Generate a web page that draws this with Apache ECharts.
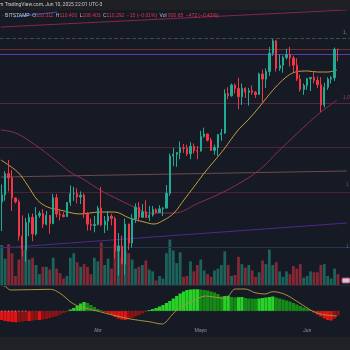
<!DOCTYPE html>
<html>
<head>
<meta charset="utf-8">
<script src="https://cdn.jsdelivr.net/npm/echarts@6/dist/echarts.min.js"></script>
<style>
html,body{margin:0;padding:0;background:#161a25;}
#c{width:350px;height:350px;}
</style>
</head>
<body>
<div id="c"></div>
<script>
// BTCUSD daily, Bitstamp — Mar 4 to Jun 10, 2025
const dates = [
'03-04','03-05','03-06','03-07','03-08','03-09','03-10','03-11','03-12','03-13','03-14','03-15','03-16','03-17',
'03-18','03-19','03-20','03-21','03-22','03-23','03-24','03-25','03-26','03-27','03-28','03-29','03-30','03-31',
'04-01','04-02','04-03','04-04','04-05','04-06','04-07','04-08','04-09','04-10','04-11','04-12','04-13','04-14','04-15',
'04-16','04-17','04-18','04-19','04-20','04-21','04-22','04-23','04-24','04-25','04-26','04-27','04-28','04-29','04-30',
'05-01','05-02','05-03','05-04','05-05','05-06','05-07','05-08','05-09','05-10','05-11','05-12','05-13','05-14','05-15',
'05-16','05-17','05-18','05-19','05-20','05-21','05-22','05-23','05-24','05-25','05-26','05-27','05-28','05-29','05-30','05-31',
'06-01','06-02','06-03','06-04','06-05','06-06','06-07','06-08','06-09','06-10'];
// empty space to the right of the last bar
const padDays = ['06-11','06-12','06-13'];

const opens = [86100,87250,90600,89950,86750,86150,80700,78550,82900,83700,81050,84000,84300,82600,
84000,82700,86800,84200,84050,83800,86050,87450,87500,86900,87200,84350,82600,82400,
82550,85150,82500,83100,83850,83500,78350,79150,76300,82600,79600,83400,85300,83700,84550,
83650,84050,84950,84450,85050,85150,87500,93400,93700,93950,94700,94650,93750,94950,94250,
94200,96500,96900,95900,94300,94750,96800,97050,103300,102950,104650,104100,102800,104150,103500,
103750,103500,103150,106400,105600,106800,109700,111650,107300,107800,109000,109450,108950,107800,105600,103950,
104600,105650,105850,105400,104700,101500,104300,105600,105800,110311];
const highs = [88900,91000,92800,91200,86850,86500,84000,83600,84300,84300,85300,84700,85000,84700,
84000,87400,87400,84800,84500,86100,88750,88500,88300,87800,87500,84550,83500,83900,
85500,88500,83900,84700,84200,83800,81200,80800,83500,82700,84200,85900,86100,85800,86400,
85500,85500,85100,85600,85300,88800,93800,94700,94000,95700,95300,95200,95600,95400,95000,
97400,97900,96900,96300,95200,96900,97700,104000,104300,104900,104900,105800,104900,104300,104200,
104600,103700,106600,107100,107300,110700,111950,111800,109500,109300,110400,110700,109300,108900,106300,104900,
105800,105900,106800,106000,105900,105000,105900,106100,110600,110400];
const lows = [81500,86300,87800,84700,85900,80000,77500,76600,80700,79900,80800,83600,82000,82400,
81100,82600,83700,83200,83700,83800,85500,86300,85900,85800,83600,81600,81600,81300,
82400,82300,81200,81600,82400,77200,74500,76300,74600,78500,78900,82800,83000,83600,83700,
83100,83800,84300,84400,83900,85100,87100,91800,91700,92900,93900,93400,92900,93800,92900,
94100,96300,95700,94200,93600,93400,95800,96900,102400,102800,103300,100800,101500,102600,101400,
103100,102600,103100,102000,104200,106100,109300,106800,106900,106600,108700,107600,106700,105300,103600,103100,
103900,103700,104900,104200,100400,101100,103900,104900,105300,108403];
const closes = [87250,90600,89950,86750,86150,80700,78550,82900,83700,81050,84000,84300,82600,84000,
82700,86800,84200,84050,83800,86050,87450,87500,86900,87200,84350,82600,82400,82550,
85150,82500,83100,83850,83500,78350,79150,76300,82600,79600,83400,85300,83700,84550,83650,
84050,84950,84450,85050,85150,87500,93400,93700,93950,94700,94650,93750,94950,94250,94200,
96500,96900,95900,94300,94750,96800,97050,103300,102950,104650,104100,102800,104150,103500,103750,
103500,103150,106400,105600,106800,109700,111650,107300,107800,109000,109450,108950,107800,105600,103950,104600,
105650,105850,105400,104700,101500,104300,105600,105800,110307,110292];
const volumes = [4400,2900,4500,3500,1000,2800,3800,4000,2800,3000,2200,1200,2000,2000,
1700,3000,1800,1300,700,1000,3000,3500,2500,2000,2300,2000,1200,3000,
2600,4700,2200,2900,1800,4500,3800,3000,3800,3500,2800,1800,2000,2200,2700,
1700,1500,500,1000,700,3500,5000,3800,2400,3600,900,1000,2600,1500,2200,
2800,1600,1200,900,1600,1800,2200,3700,2200,1000,1100,3100,2300,1900,2200,
1600,900,1400,2700,2300,3900,2200,2500,1500,900,1500,1200,2100,1800,2300,800,
1000,1500,1400,1400,2200,2300,1000,700,1800,1200];

// 20- and 50-day moving averages, [day index, price]
const sma20 = [[-0.25,92770],[4.65,90870],[7.5,88810],[10.4,86440],[13.3,85330],[17,84850],[22.8,84220],
[28.6,84530],[32.9,84530],[37.2,83580],[41.5,82950],[44.4,82630],[47.3,83270],[50.2,84370],[53.1,86440],
[56,88500],[58.8,90560],[61.7,92460],[64.6,94360],[68.9,97530],[71.8,99110],[75.3,101330],[77.6,102920],
[80.4,104660],[83.3,106090],[85.6,106720],[89.1,106880],[92,106720],[94.9,106720],[97.7,107040]];
const sma50 = [[-0.25,97530],[4.1,97050],[9.8,95150],[15.6,92770],[19.9,90870],[24.2,89600],[28.6,88020],
[34.3,86440],[39.2,85170],[43,84370],[50.2,84370],[57.4,85960],[64.6,87700],[71.8,89920],[76.1,91670],
[80.4,94040],[86.2,97050],[92,99910],[97.7,102280]];

// drawn horizontal levels
const levels = [112110, 110292, 109570, 101810, 94830, 87700, 78990];
// drawn trend lines, [day index, price]
const upperTrend = [[-0.25,113850],[100.6,116550]];
const shortTrend = [[3.5,115440],[16.2,116230]];
const midTrend = [[-0.25,90080],[100.6,91030]];
const lowerTrend = [[-0.25,78830],[100.6,82790]];

// momentum histogram and its companion line
const momentum = [-9,-10,-10.5,-11,-11.2,-11,-10.5,-10,-10,-9.5,-9,-9,-8.5,-8,-7,-6,-5,-3.5,-2,-1,
1.5,3,5,7.5,9,8,6,4,2,0.8,-1,-2.5,-4,-6,-7.5,-8.5,-9,-8.5,-7,-5.5,-4,-2.5,-1,
1,2,3,4.5,6,8,10,12.5,15,17.5,19.5,21,21.5,21.7,21.8,21.5,21,20.5,19.5,18.5,17,14.5,15,15.2,14,13.5,13.8,14,
13,12.5,12.3,12.2,12.5,13,13.5,14,14.5,13.5,12.5,11.5,10.5,9.5,8,6.5,5,3.5,2.5,1,
-1.5,-3.5,-5.5,-7.5,-9,-9.5,-8,-4.5];
const momentumLine = [[-1,25.5],[0.6,25.3],[2.6,21],[14.2,21.7],[17,17.7],[20.5,8],[22.8,4.3],[28.6,-0.7],
[32.3,-4],[38,-8.3],[43,-10.7],[46.7,-13],[49.6,-4],[51.6,2.7],[55.4,9.3],[59.4,15],[62.3,13.7],[65.2,12.7],
[68.1,22],[71,22],[73.8,18.3],[76.7,17],[79,19.3],[82.5,16.7],[86.2,9.3],[90,1],[92.8,-3],[97.7,-5]];
const squeezeDays = 8;

// month ticks
const tickDates = ['04-01','05-01','06-01'];
const tickLabels = ['Abr','Mayo','Jun'];

const UP = '#22ab94', DOWN = '#f23645';
const cats = dates.concat(padDays);
const N = cats.length;
const STEP = 3.47;
const L = 0.9 - STEP / 2, W = N * STEP;

const candleData = dates.map((d, i) => [opens[i], closes[i], lows[i], highs[i]]);
const volData = volumes.map((v, i) => ({
  value: v,
  itemStyle: { color: closes[i] >= opens[i] ? 'rgba(34,171,148,0.5)' : 'rgba(242,54,69,0.5)' }
}));
const histData = momentum.map((v, i) => {
  const prev = i > 0 ? momentum[i - 1] : v;
  let c;
  if (v >= 0) c = v >= prev ? '#27d327' : '#168a16';
  else c = v <= prev ? '#e31414' : '#8e1212';
  return { value: v, itemStyle: { color: c } };
});
const dotData = dates.map((d, i) => ({
  value: 0,
  itemStyle: { color: i < squeezeDays ? '#9a9ca4' : '#3a3d48' }
}));

const levelStyles = [
  { color: '#3f4c47', type: 'dashed' },
  { color: '#6e2a40', type: 'solid' },
  { color: '#5b3ab6', type: 'solid' },
  { color: '#5a2541', type: 'solid' },
  { color: '#4f2439', type: 'solid' },
  { color: '#4a2233', type: 'solid' },
  { color: '#27354b', type: 'solid' }
];

const hidden = { show: false };
const lineOpts = (data, color, xi, yi, z) => ({
  type: 'line', data, xAxisIndex: xi, yAxisIndex: yi, smooth: 0.35, showSymbol: false,
  symbol: 'none', lineStyle: { color, width: 1 }, silent: true, z, animation: false
});

const option = {
  backgroundColor: '#161a25',
  animation: false,
  grid: [
    { left: L, width: W, top: 10, height: 275 },
    { left: L, width: W, top: 225, height: 60 },
    { left: L, width: W, top: 285, height: 40 }
  ],
  xAxis: [
    { type: 'category', gridIndex: 0, data: cats, show: false, boundaryGap: true },
    { type: 'value', gridIndex: 0, min: -0.5, max: N - 0.5, show: false },
    { type: 'category', gridIndex: 1, data: cats, show: false, boundaryGap: true },
    {
      type: 'category', gridIndex: 2, data: cats, boundaryGap: true,
      axisLine: hidden, axisTick: hidden, splitLine: hidden,
      axisLabel: {
        show: true, color: '#8d909a', fontSize: 5, margin: 3,
        fontFamily: 'Roboto, Arial, sans-serif',
        interval: (idx, val) => tickDates.indexOf(val) >= 0,
        formatter: (val) => { const k = tickDates.indexOf(val); return k >= 0 ? tickLabels[k] : ''; }
      }
    },
    { type: 'value', gridIndex: 2, min: -0.5, max: N - 0.5, show: false }
  ],
  yAxis: [
    { type: 'value', gridIndex: 0, min: 72965, max: 116546, show: false, splitLine: hidden },
    { type: 'value', gridIndex: 1, min: 0, max: 6600, show: false, splitLine: hidden },
    { type: 'value', gridIndex: 2, min: -14, max: 26, show: false, splitLine: hidden }
  ],
  series: [
    {
      type: 'bar', data: volData, xAxisIndex: 2, yAxisIndex: 1, barWidth: 2.8, z: 1, silent: true
    },
    lineOpts(upperTrend, '#8a2550', 1, 0, 2),
    lineOpts(shortTrend, '#3557b8', 1, 0, 2),
    lineOpts(midTrend, '#6e4a4d', 1, 0, 2),
    lineOpts(lowerTrend, '#50298a', 1, 0, 2),
    lineOpts(sma50, '#8f2b57', 1, 0, 3),
    lineOpts(sma20, '#c49e3c', 1, 0, 3),
    {
      type: 'candlestick', data: candleData, xAxisIndex: 0, yAxisIndex: 0, barWidth: 1.8, z: 4,
      silent: true,
      itemStyle: { color: UP, color0: DOWN, borderColor: UP, borderColor0: DOWN, borderWidth: 1 },
      markLine: {
        silent: true, symbol: ['none', 'none'], label: { show: false }, z: 2,
        data: levels.map((p, i) => ({ yAxis: p, lineStyle: { color: levelStyles[i].color, type: levelStyles[i].type, width: 1 } }))
      }
    },
    {
      type: 'bar', data: histData, xAxisIndex: 3, yAxisIndex: 2, barWidth: 3.3, z: 2, silent: true
    },
    {
      type: 'scatter', data: dotData, xAxisIndex: 3, yAxisIndex: 2, symbolSize: 1.3, z: 3, silent: true
    },
    lineOpts(momentumLine, '#a8913f', 4, 2, 4)
  ],
  graphic: [
    { type: 'rect', shape: { x: 0, y: 0, width: 350, height: 10 }, style: { fill: '#1f2023' }, z: 100 },
    {
      type: 'text', x: -1, y: 5, z: 101,
      style: { text: 'm TradingView.com, Jun 10, 2025 22:01 UTC-3', fill: '#c9cacd', fontSize: 5,
        fontFamily: 'Roboto, Arial, sans-serif', verticalAlign: 'middle' }
    },
    {
      type: 'text', x: 2, y: 15.5, z: 101,
      style: {
        text: '{n|· BITSTAMP}  {k|O}{v|110.311}  {k|H}{v|110.400}  {k|L}{v|108.403}  {k|C}{v|110.292}  {v|−15 (−0.01%)}  {k|Vol}{v| 930.65}  {v|−472 (−0.43%)}',
        verticalAlign: 'middle', fontSize: 5, fontFamily: 'Roboto, Arial, sans-serif',
        rich: {
          n: { fill: '#c3c6ce', fontSize: 5 },
          k: { fill: '#b8bbc3', fontSize: 5 },
          v: { fill: '#e0344a', fontSize: 5 }
        }
      }
    },
    { type: 'line', shape: { x1: 0, y1: 285.5, x2: 350, y2: 285.5 }, style: { stroke: '#262a35', lineWidth: 1 }, z: 50 },
    { type: 'rect', shape: { x: 0, y: 337, width: 350, height: 13 }, style: { fill: '#202124' }, z: 100 },
    { type: 'text', x: 343, y: 33, z: 60, style: { text: '1,', fill: '#6a8a74', fontSize: 5, verticalAlign: 'middle' } },
    { type: 'text', x: 343, y: 98, z: 60, style: { text: '1,0', fill: '#a03c60', fontSize: 5, verticalAlign: 'middle' } },
    { type: 'text', x: 346, y: 185, z: 60, style: { text: '1', fill: '#a03c60', fontSize: 5, verticalAlign: 'middle' } },
    { type: 'text', x: 346, y: 247, z: 60, style: { text: '1', fill: '#4a66a8', fontSize: 5, verticalAlign: 'middle' } },
    { type: 'rect', shape: { x: 342, y: 278, width: 8, height: 5, r: 1 }, style: { fill: '#c8cbe6', stroke: '#d04058', lineWidth: 1 }, z: 60 }
  ]
};

const chart = echarts.init(document.getElementById('c'), null, { renderer: 'canvas' });
chart.setOption(option);
</script>
</body>
</html>
